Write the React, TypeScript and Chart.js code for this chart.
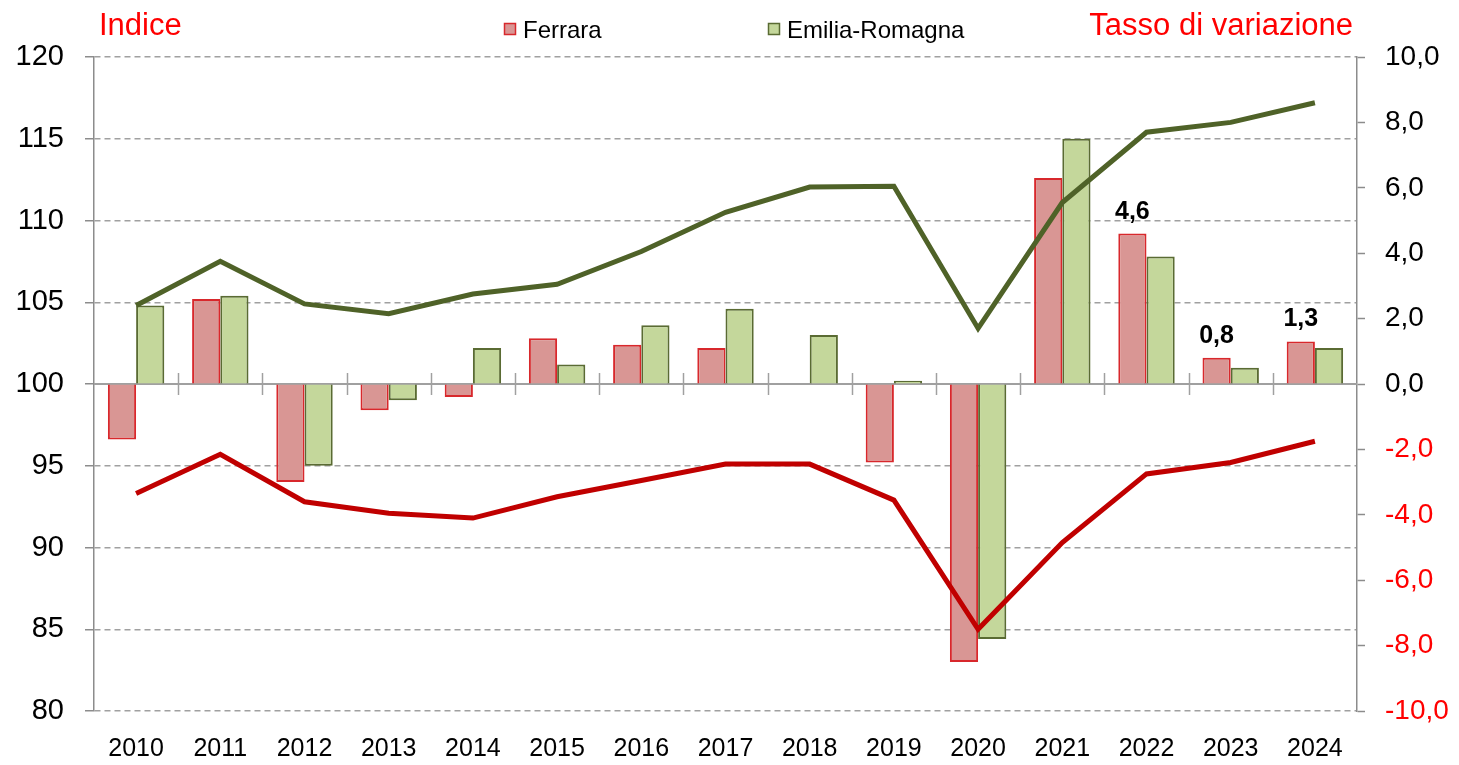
import React, { useEffect, useRef } from "react";
import { Chart, registerables } from "chart.js";

Chart.register(...registerables);

const years = ["2010", "2011", "2012", "2013", "2014", "2015", "2016", "2017", "2018", "2019", "2020", "2021", "2022", "2023", "2024"];
const ferraraRate = [-1.7, 2.6, -3.0, -0.8, -0.4, 1.4, 1.2, 1.1, 0.0, -2.4, -8.5, 6.3, 4.6, 0.8, 1.3];
const emiliaRate = [2.4, 2.7, -2.5, -0.5, 1.1, 0.6, 1.8, 2.3, 1.5, 0.1, -7.8, 7.5, 3.9, 0.5, 1.1];
const ferraraIndex = [93.3, 95.7, 92.8, 92.1, 91.8, 93.1, 94.1, 95.1, 95.1, 92.9, 85.0, 90.3, 94.5, 95.2, 96.5];
const emiliaIndex = [104.8, 107.5, 104.9, 104.3, 105.5, 106.1, 108.1, 110.5, 112.05, 112.1, 103.4, 111.1, 115.4, 116.0, 117.2];
const labeledIdx = [12, 13, 14];
const seriesNames = ["Ferrara", "Emilia-Romagna"];
const leftTitle = "Indice";
const rightTitle = "Tasso di variazione";

const FONT = "'Liberation Sans', Arial, sans-serif";
const GRID = "#A0A0A0";
const RED_FILL = "#D99694";
const RED_BORDER = "#D8282C";
const GREEN_FILL = "#C4D79B";
const GREEN_BORDER = "#5A6B33";
const RED_LINE = "#C00000";
const GREEN_LINE = "#4F6228";

const fmt = (v: number) => v.toFixed(1).replace(".", ",");

const decorPlugin = {
  id: "decor",
  beforeDatasetsDraw(chart: any) {
    const ctx = chart.ctx;
    const ca = chart.chartArea;
    const y1 = chart.scales.y1;
    const zy = y1.getPixelForValue(0);
    ctx.save();
    ctx.strokeStyle = GRID;
    ctx.lineWidth = 2;
    ctx.beginPath();
    ctx.moveTo(ca.left, zy);
    ctx.lineTo(ca.right, zy);
    ctx.stroke();
    ctx.lineWidth = 1.5;
    const n = years.length;
    const w = (ca.right - ca.left) / n;
    for (let k = 1; k < n; k++) {
      const px = Math.round(ca.left + k * w) + 0.5;
      ctx.beginPath();
      ctx.moveTo(px, zy - 11);
      ctx.lineTo(px, zy + 11);
      ctx.stroke();
    }
    ctx.restore();
  },
  afterDraw(chart: any) {
    const ctx = chart.ctx;
    ctx.save();
    ctx.font = `31px ${FONT}`;
    ctx.fillStyle = "#FF0000";
    ctx.textBaseline = "alphabetic";
    ctx.textAlign = "left";
    ctx.fillText(leftTitle, 99, 35);
    ctx.textAlign = "right";
    ctx.fillText(rightTitle, 1353, 35);
    ctx.font = `24px ${FONT}`;
    ctx.textAlign = "left";
    const items = [
      { x: 504, fill: RED_FILL, border: RED_BORDER, name: seriesNames[0] },
      { x: 768, fill: GREEN_FILL, border: GREEN_BORDER, name: seriesNames[1] },
    ];
    for (const it of items) {
      ctx.fillStyle = it.fill;
      ctx.fillRect(it.x, 23, 12, 12);
      ctx.strokeStyle = it.border;
      ctx.lineWidth = 1.5;
      ctx.strokeRect(it.x + 0.5, 23.5, 11, 11);
      ctx.fillStyle = "#000000";
      ctx.fillText(it.name, it.x + 19, 38);
    }
    const meta = chart.getDatasetMeta(0);
    ctx.font = `bold 25px ${FONT}`;
    ctx.textAlign = "center";
    ctx.fillStyle = "#000000";
    for (const i of labeledIdx) {
      const el = meta.data[i];
      ctx.fillText(fmt(ferraraRate[i]), el.x, el.y - 15);
    }
    ctx.restore();
  },
};

export default function App() {
  const ref = useRef<HTMLCanvasElement>(null);
  useEffect(() => {
    document.body.style.margin = "0";
    const canvas = ref.current!;
    const chart = new Chart(canvas, {
      type: "bar",
      data: {
        labels: years,
        datasets: [
          {
            type: "bar",
            label: seriesNames[0],
            data: ferraraRate,
            yAxisID: "y1",
            backgroundColor: RED_FILL,
            borderColor: RED_BORDER,
            borderWidth: 2,
            categoryPercentage: 0.67,
            barPercentage: 1.0,
            order: 2,
          },
          {
            type: "bar",
            label: seriesNames[1],
            data: emiliaRate,
            yAxisID: "y1",
            backgroundColor: GREEN_FILL,
            borderColor: GREEN_BORDER,
            borderWidth: 2,
            categoryPercentage: 0.67,
            barPercentage: 1.0,
            order: 2,
          },
          {
            type: "line",
            label: seriesNames[1] + " indice",
            data: emiliaIndex,
            yAxisID: "y",
            borderColor: GREEN_LINE,
            borderWidth: 5,
            pointRadius: 0,
            tension: 0,
            fill: false,
            order: 0,
          },
          {
            type: "line",
            label: seriesNames[0] + " indice",
            data: ferraraIndex,
            yAxisID: "y",
            borderColor: RED_LINE,
            borderWidth: 5,
            pointRadius: 0,
            tension: 0,
            fill: false,
            order: 0,
          },
        ],
      } as any,
      options: {
        responsive: false,
        animation: false,
        layout: { padding: { top: 57, left: 0, right: 0, bottom: 0 } },
        plugins: {
          legend: { display: false },
          tooltip: { enabled: false },
          title: { display: false },
        },
        scales: {
          x: {
            offset: true,
            grid: { display: false, drawTicks: false },
            border: { display: false },
            ticks: {
              color: "#000000",
              font: { family: FONT, size: 25 },
              padding: 23,
              maxRotation: 0,
              autoSkip: false,
            },
            afterFit: (s: any) => {
              s.height = 54;
            },
          },
          y: {
            position: "left",
            min: 80,
            max: 120,
            ticks: {
              stepSize: 5,
              color: "#000000",
              font: { family: FONT, size: 29 },
              padding: 21,
            },
            grid: {
              color: GRID,
              lineWidth: 1.5,
              drawTicks: true,
              tickLength: 9,
              tickColor: "#8C8C8C",
              tickWidth: 1.5,
            },
            border: { display: true, color: "#8C8C8C", width: 1.5, dash: [6, 4] },
            afterFit: (s: any) => {
              s.width = 94;
            },
          },
          y1: {
            position: "right",
            min: -10,
            max: 10,
            ticks: {
              stepSize: 2,
              color: (c: any) => (c.tick && c.tick.value < 0 ? "#FF0000" : "#000000"),
              font: { family: FONT, size: 28 },
              padding: 20,
              callback: (v: any) => fmt(Number(v)),
            },
            grid: {
              drawOnChartArea: false,
              drawTicks: true,
              tickLength: 8,
              tickColor: "#8C8C8C",
              tickWidth: 1.5,
            },
            border: { display: true, color: "#8C8C8C", width: 1.5 },
            afterFit: (s: any) => {
              s.width = 102;
            },
          },
        },
      } as any,
      plugins: [decorPlugin],
    });
    return () => chart.destroy();
  }, []);
  return (
    <div style={{ width: 1459, height: 765 }}>
      <canvas ref={ref} width={1459} height={765} style={{ display: "block" }} />
    </div>
  );
}
